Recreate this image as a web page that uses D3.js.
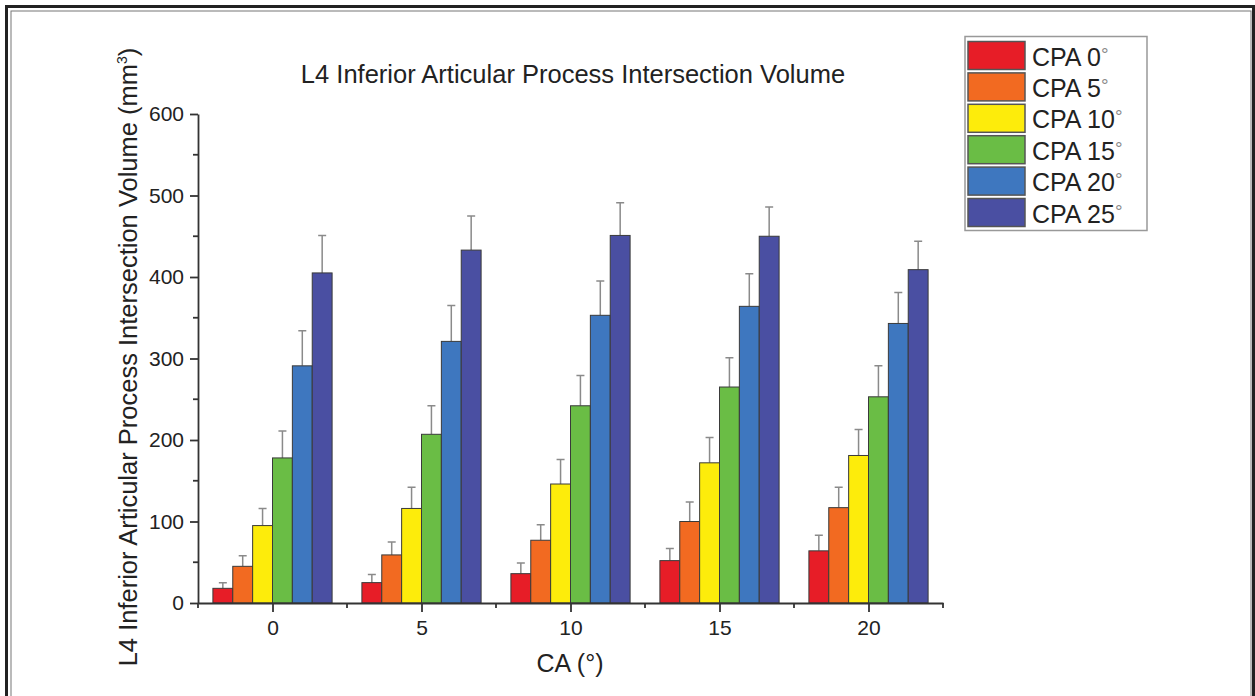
<!DOCTYPE html>
<html>
<head>
<meta charset="utf-8">
<script src="https://cdn.jsdelivr.net/npm/d3@7"></script>
<style>
  body { margin: 0; background: #fff; }
  svg { display: block; font-family: "Liberation Sans", Arial, sans-serif; }
</style>
</head>
<body>
<div class="chart"></div>
<script>
const w = 1255;
const h = 696;

// data
const caValues = [0, 5, 10, 15, 20];
const series = ["CPA 0", "CPA 5", "CPA 10", "CPA 15", "CPA 20", "CPA 25"];
const colors = ["#e71d27", "#f26a21", "#fdec0b", "#6abd45", "#3e77bf", "#4a4fa2"];
const means = [
  [18, 45, 95, 178, 291, 405],   // CA 0
  [25, 59, 116, 207, 321, 433],  // CA 5
  [36, 77, 146, 242, 353, 451],  // CA 10
  [52, 100, 172, 265, 364, 450], // CA 15
  [64, 117, 181, 253, 343, 409]  // CA 20
];
const errTops = [
  [25, 58, 116, 211, 334, 451],
  [35, 75, 142, 242, 365, 475],
  [49, 96, 176, 279, 395, 491],
  [67, 124, 203, 301, 404, 486],
  [83, 142, 213, 291, 381, 444]
];
const yTicks = [0, 100, 200, 300, 400, 500, 600];
const xTicks = [0, 5, 10, 15, 20];

const svg = d3
  .select(".chart")
  .append("svg")
  .attr("width", w)
  .attr("height", h);

// page frame
svg.append("rect")
  .attr("x", 6.5).attr("y", 6.5)
  .attr("width", 1247).attr("height", 800)
  .attr("fill", "none").attr("stroke", "#222").attr("stroke-width", 3);
svg.append("rect")
  .attr("x", 11).attr("y", 11)
  .attr("width", 1240).attr("height", 800)
  .attr("fill", "none").attr("stroke", "#777").attr("stroke-width", 1);

// scales
const xScale = d3.scaleLinear().domain([-2.5, 22.5]).range([198, 943]);
const yScale = d3.scaleLinear().domain([0, 600]).range([603, 114]);
const groupW = xScale(4) - xScale(0);
const inner = d3.scaleBand().domain(series).range([-groupW / 2, groupW / 2]);

// bars
const groups = svg.selectAll(".group")
  .data(caValues)
  .enter()
  .append("g")
  .attr("class", "group")
  .attr("transform", d => `translate(${xScale(d)},0)`);

groups.each(function (ca, gi) {
  const g = d3.select(this);
  const rows = series.map((s, si) => ({ s, si, v: means[gi][si], e: errTops[gi][si] }));

  // error bars (upper only)
  g.selectAll(".err")
    .data(rows)
    .enter()
    .append("path")
    .attr("class", "err")
    .attr("d", d => {
      const cx = inner(d.s) + inner.bandwidth() / 2;
      return `M${cx},${yScale(d.v)}V${yScale(d.e)}M${cx - 4},${yScale(d.e)}H${cx + 4}`;
    })
    .attr("fill", "none")
    .attr("stroke", "#8a8a8a")
    .attr("stroke-width", 1.5);

  g.selectAll(".bar")
    .data(rows)
    .enter()
    .append("rect")
    .attr("class", "bar")
    .attr("x", d => inner(d.s))
    .attr("y", d => yScale(d.v))
    .attr("width", inner.bandwidth())
    .attr("height", d => yScale(0) - yScale(d.v))
    .attr("fill", d => colors[d.si])
    .attr("stroke", "#3a3a3a")
    .attr("stroke-width", 1);
});

//axis
const xAxis = d3.axisBottom(xScale).tickValues(xTicks).tickSize(9).tickPadding(8).tickFormat(d3.format("d"));
const yAxis = d3.axisLeft(yScale).tickValues(yTicks).tickSize(8).tickPadding(6).tickFormat(d3.format("d"));

const xg = svg.append("g")
  .attr("transform", `translate(0,${yScale(0)})`)
  .call(xAxis.tickSizeOuter(0));
// minor x ticks
xg.selectAll(".minor")
  .data([-2.5, 2.5, 7.5, 12.5, 17.5, 22.5])
  .enter()
  .append("line")
  .attr("x1", d => xScale(d)).attr("x2", d => xScale(d))
  .attr("y1", 0).attr("y2", 5)
  .attr("stroke", "#333").attr("stroke-width", 1.8);

const yg = svg.append("g")
  .attr("transform", `translate(${xScale(-2.5)},0)`)
  .call(yAxis.tickSizeOuter(0));
yg.selectAll(".minor")
  .data([50, 150, 250, 350, 450, 550])
  .enter()
  .append("line")
  .attr("x1", 0).attr("x2", -5)
  .attr("y1", d => yScale(d)).attr("y2", d => yScale(d))
  .attr("stroke", "#333").attr("stroke-width", 1.8);

[xg, yg].forEach(g => {
  g.select(".domain").attr("stroke", "#333").attr("stroke-width", 1.8);
  g.selectAll(".tick line").attr("stroke", "#333").attr("stroke-width", 1.8);
  g.selectAll("text")
    .attr("font-family", "Liberation Sans, Arial, sans-serif")
    .attr("font-size", 21)
    .attr("fill", "#222");
});

// title
svg.append("text")
  .attr("x", 573)
  .attr("y", 83)
  .attr("text-anchor", "middle")
  .attr("font-size", 25.5)
  .attr("fill", "#222")
  .text("L4 Inferior Articular Process Intersection Volume");

// y label
const yLabel = svg.append("text")
  .attr("transform", "translate(137,357) rotate(-90)")
  .attr("text-anchor", "middle")
  .attr("font-size", 25.5)
  .attr("fill", "#222");
yLabel.append("tspan").text("L4 Inferior Articular Process Intersection Volume (mm");
yLabel.append("tspan").attr("font-size", 14).attr("dy", -10).text("3");
yLabel.append("tspan").attr("dy", 10).text(")");

// x label
svg.append("text")
  .attr("x", 570)
  .attr("y", 672)
  .attr("text-anchor", "middle")
  .attr("font-size", 25)
  .attr("fill", "#222")
  .text("CA (°)");

//create legend
const legend = svg.append("g").attr("id", "legend");
legend.append("rect")
  .attr("x", 965).attr("y", 36.5)
  .attr("width", 182).attr("height", 194)
  .attr("fill", "#fff").attr("stroke", "#999").attr("stroke-width", 1.5);

const items = legend.selectAll(".item")
  .data(series)
  .enter()
  .append("g")
  .attr("class", "item")
  .attr("transform", (d, i) => `translate(968,${41.5 + i * 31.4})`);

items.append("rect")
  .attr("width", 57).attr("height", 28)
  .attr("fill", (d, i) => colors[i])
  .attr("stroke", "#555").attr("stroke-width", 1.5);

const labels = items.append("text")
  .attr("x", 64)
  .attr("y", 24)
  .attr("font-size", 25)
  .attr("fill", "#222");
labels.append("tspan").text(d => d);
labels.append("tspan")
  .attr("font-size", 19)
  .attr("dy", -5)
  .attr("fill", "#888")
  .text("°");
</script>
</body>
</html>
